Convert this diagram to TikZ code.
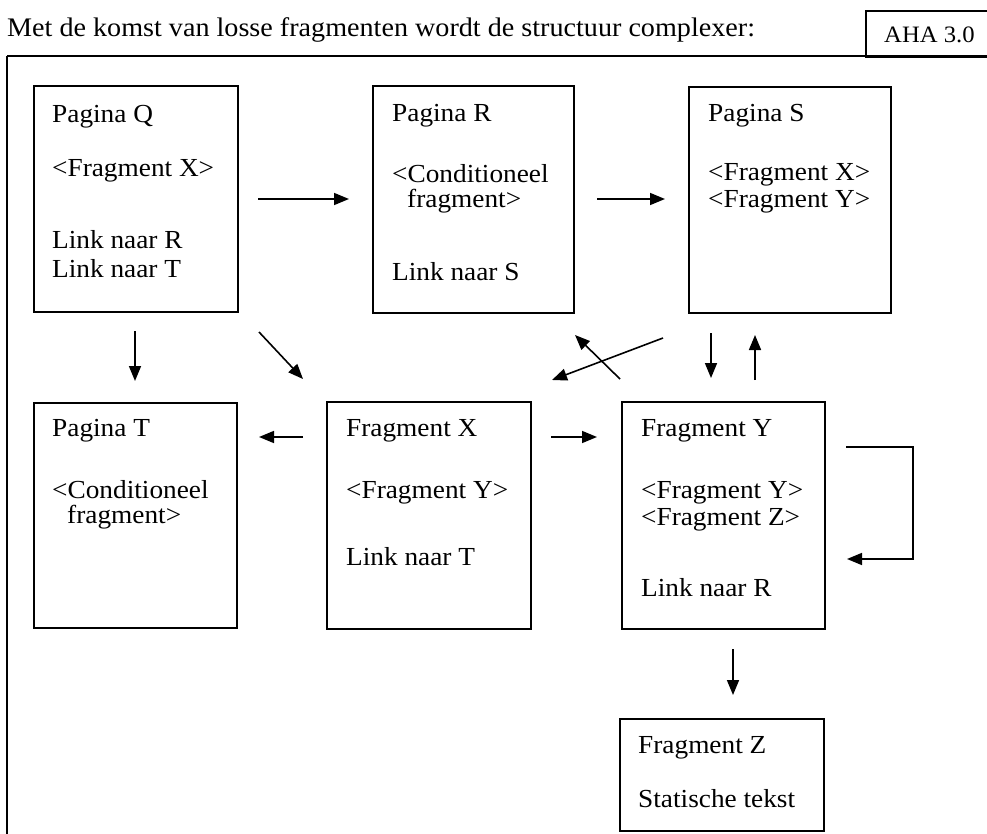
\documentclass[tikz,border=0pt]{standalone}
\usepackage{fontspec}
\setmainfont{Liberation Serif}[FakeStretch=1.05]
\usetikzlibrary{arrows.meta}
\begin{document}
\begin{tikzpicture}[x=1pt,y=-1pt,
  box/.style={draw, line width=1.8pt, anchor=north west, inner sep=0pt},
  lbl/.style={anchor=base west, inner sep=0pt, font=\fontsize{26}{30}\selectfont},
  link/.style={line width=1.6pt, -{Triangle[length=15pt,width=12pt]}},
  frame/.style={line width=1.8pt}]
\useasboundingbox (0,0) rectangle (987,834);

% outer frame (top and left edges) and version tag
\draw[frame] (7,56) -- (987,56);
\draw[frame] (7,56) -- (7,834);
\node[box, minimum width=122pt, minimum height=46pt] (aha) at (865,10) {};
\node[lbl, font=\fontsize{23.5}{28}\selectfont] (ahatxt) at (884,43) {AHA 3.0};
\node[lbl, font=\fontsize{26.8}{30}\selectfont] (title) at (7,37) {Met de komst van losse fragmenten wordt de structuur complexer:};

% page and fragment boxes
\node[box, minimum width=204pt, minimum height=226pt] (Q) at (33,85) {};
\node[box, minimum width=201pt, minimum height=227pt] (R) at (372,85) {};
\node[box, minimum width=202pt, minimum height=226pt] (S) at (688,86) {};
\node[box, minimum width=203pt, minimum height=225pt] (T) at (33,402) {};
\node[box, minimum width=204pt, minimum height=227pt] (X) at (326,401) {};
\node[box, minimum width=203pt, minimum height=227pt] (Y) at (621,401) {};
\node[box, minimum width=204pt, minimum height=112pt] (Z) at (619,718) {};

% box contents
\node[lbl] (q1) at (52,123) {Pagina Q};
\node[lbl] (q2) at (52,177) {<Fragment X>};
\node[lbl] (q3) at (52,248) {Link naar R};
\node[lbl] (q4) at (52,277) {Link naar T};

\node[lbl] (r1) at (392,122) {Pagina R};
\node[lbl] (r2) at (392,183) {<Conditioneel};
\node[lbl] (r3) at (407,208) {fragment>};
\node[lbl] (r4) at (392,280) {Link naar S};

\node[lbl] (s1) at (708,122) {Pagina S};
\node[lbl] (s2) at (708,181) {<Fragment X>};
\node[lbl] (s3) at (708,208) {<Fragment Y>};

\node[lbl] (t1) at (52,436) {Pagina T};
\node[lbl] (t2) at (52,498) {<Conditioneel};
\node[lbl] (t3) at (67,523) {fragment>};

\node[lbl] (x1) at (346,436) {Fragment X};
\node[lbl] (x2) at (346,498) {<Fragment Y>};
\node[lbl] (x3) at (346,565) {Link naar T};

\node[lbl] (y1) at (641,436) {Fragment Y};
\node[lbl] (y2) at (641,498) {<Fragment Y>};
\node[lbl] (y3) at (641,525) {<Fragment Z>};
\node[lbl] (y4) at (641,596) {Link naar R};

\node[lbl] (z1) at (638,753) {Fragment Z};
\node[lbl] (z2) at (638,807) {Statische tekst};

% connector end points
\coordinate (qr1) at (258,199);  \coordinate (qr2) at (349,199);
\coordinate (rs1) at (597,199);  \coordinate (rs2) at (665,199);
\coordinate (qt1) at (135,331);  \coordinate (qt2) at (135,381);
\coordinate (qx1) at (259,332);  \coordinate (qx2) at (303,379);
\coordinate (sx1) at (663,338);  \coordinate (sx2) at (552,380);
\coordinate (xs1) at (620,379);  \coordinate (xs2) at (575,335);
\coordinate (sy1) at (711,333);  \coordinate (sy2) at (711,378);
\coordinate (ys1) at (755,380);  \coordinate (ys2) at (755,335);
\coordinate (xt1) at (303,437);  \coordinate (xt2) at (259,437);
\coordinate (xy1) at (551,437);  \coordinate (xy2) at (597,437);
\coordinate (yy1) at (846,447);  \coordinate (yy2) at (913,447);
\coordinate (yy3) at (913,559);  \coordinate (yy4) at (847,559);
\coordinate (yz1) at (733,649);  \coordinate (yz2) at (733,695);

% connectors
\draw[link] (qr1) -- (qr2);
\draw[link] (rs1) -- (rs2);
\draw[link] (qt1) -- (qt2);
\draw[link] (qx1) -- (qx2);
\draw[link] (sx1) -- (sx2);
\draw[link] (xs1) -- (xs2);
\draw[link] (sy1) -- (sy2);
\draw[link] (ys1) -- (ys2);
\draw[link] (xt1) -- (xt2);
\draw[link] (xy1) -- (xy2);
\draw[link] (yy1) -- (yy2) -- (yy3) -- (yy4);
\draw[link] (yz1) -- (yz2);
\end{tikzpicture}
\end{document}
